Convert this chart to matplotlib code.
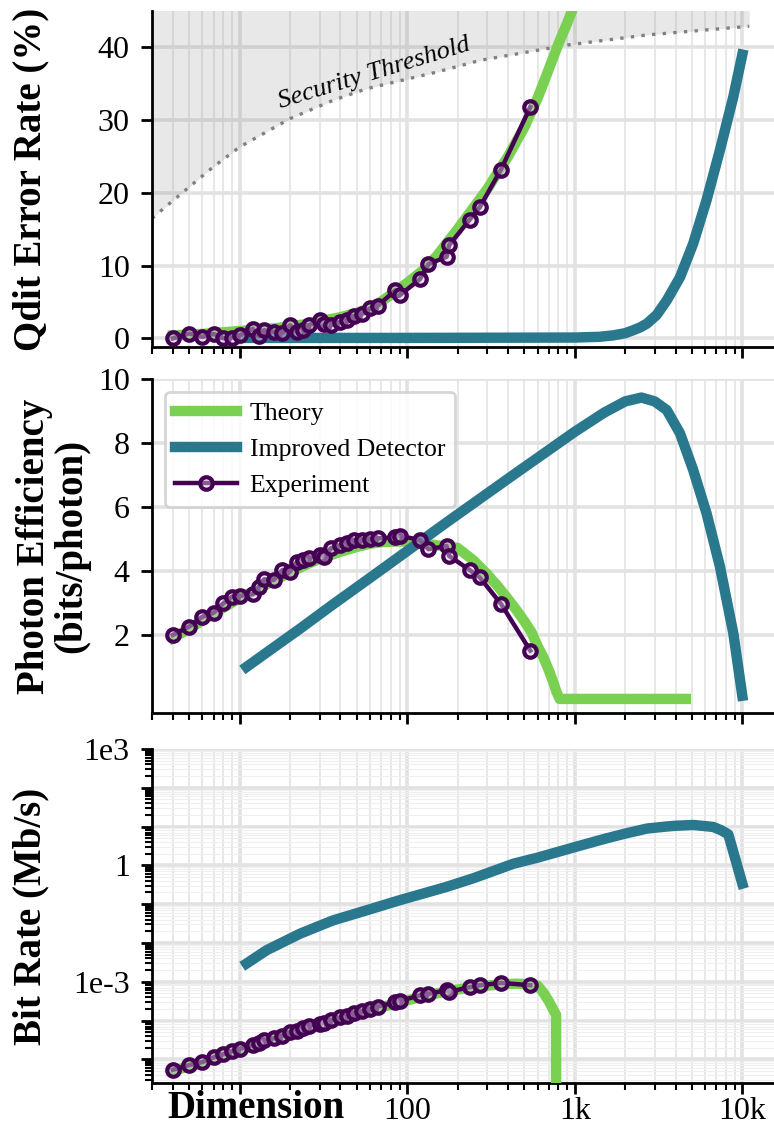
import numpy as np
import matplotlib
matplotlib.use('Agg')
import matplotlib.pyplot as plt
from matplotlib.ticker import FixedLocator, FixedFormatter, LogLocator, FuncFormatter, NullFormatter

plt.rcParams['font.family'] = ['Liberation Serif', 'DejaVu Serif']

# ---------------- data ----------------
exp_dim = [4, 5, 6, 7, 8, 9, 10, 12, 13, 14, 16, 18, 20, 22, 24, 26, 30, 32, 35, 40,
           44, 48, 54, 60, 67, 85, 90, 119, 134, 172, 178, 236, 271, 363, 543]
exp_error = [0.0, 0.65, 0.2, 0.6, 0.0, 0.1, 0.4, 1.3, 0.3, 1.1, 0.9, 0.75, 1.8, 0.9, 1.1, 1.8,
             2.5, 2.0, 1.8, 2.25, 2.5, 3.0, 3.4, 4.1, 4.5, 6.6, 5.9, 8.1, 10.2, 11.2, 12.8,
             16.3, 18.0, 23.2, 31.8]
exp_eff = [2.0, 2.26, 2.57, 2.69, 2.99, 3.2, 3.22, 3.28, 3.49, 3.74, 3.72, 4.03, 3.98, 4.29,
           4.34, 4.40, 4.5, 4.45, 4.71, 4.81, 4.86, 4.97, 4.97, 4.99, 5.02, 5.05, 5.1, 4.97,
           4.68, 4.78, 4.47, 4.03, 3.80, 2.97, 1.51]
exp_rate = [5.37e-6, 7.08e-6, 8.51e-6, 1.12e-5, 1.35e-5, 1.62e-5, 1.86e-5, 2.34e-5, 2.63e-5,
            3.09e-5, 3.47e-5, 4.07e-5, 5.01e-5, 5.37e-5, 6.31e-5, 7.41e-5, 8.32e-5, 8.71e-5,
            1.02e-4, 1.20e-4, 1.32e-4, 1.58e-4, 1.74e-4, 2.0e-4, 2.29e-4, 2.95e-4, 3.16e-4,
            4.47e-4, 4.9e-4, 6.03e-4, 5.5e-4, 7.24e-4, 8.13e-4, 9.33e-4, 8.13e-4]

theory_err_dim = [4, 6, 10, 16, 25, 40, 50, 64, 80, 100, 125, 150, 200, 300, 400, 500, 600,
                  700, 800, 900, 1000]
theory_err = [0.4, 0.6, 1.0, 1.35, 1.95, 2.9, 3.5, 4.4, 6.0, 7.6, 9.4, 11.3, 15.0, 20.5, 25.0,
              29.0, 33.0, 37.0, 40.5, 43.3, 46.0]

theory_dim = [4, 5, 6, 8, 10, 13, 16, 20, 25, 30, 40, 50, 60, 70, 85, 100, 120, 150, 200, 250,
              300, 350, 400, 450, 500, 550, 600, 650, 700, 750, 774, 813, 1000, 2000, 4600]
theory_eff = [1.9, 2.2, 2.45, 2.85, 3.15, 3.45, 3.7, 3.95, 4.2, 4.38, 4.6, 4.75, 4.85, 4.9, 4.92,
              4.92, 4.88, 4.8, 4.72, 4.32, 3.9, 3.5, 3.12, 2.77, 2.43, 2.1, 1.65, 1.3, 0.9, 0.48,
              0.25, 0.0, 0.0, 0.0, 0.0]
theory_rate = [5.0e-6, 6.6e-6, 8.1e-6, 1.26e-5, 1.74e-5, 2.51e-5, 3.31e-5, 4.57e-5, 6.31e-5,
               7.94e-5, 1.15e-4, 1.48e-4, 1.82e-4, 2.19e-4, 2.75e-4, 3.31e-4, 3.98e-4, 5.01e-4,
               6.31e-4, 7.24e-4, 7.94e-4, 8.51e-4, 8.71e-4, 8.91e-4, 8.71e-4, 8.51e-4, 7.94e-4,
               5.25e-4, 3.16e-4, 1.78e-4, 1.41e-4, 0.0, 0.0, 0.0, 0.0]

improved_err_dim = [11, 100, 1000, 1400, 1700, 2000, 2230, 2460, 2690, 3080, 3540, 4250, 5090,
                    6120, 7360, 8840, 10000]
improved_err = [0.05, 0.05, 0.1, 0.2, 0.4, 0.7, 1.1, 1.5, 2.0, 3.2, 5.2, 8.4, 13.0, 19.0, 25.9,
                33.2, 39.0]

improved_eff_dim = [11, 14.5, 23, 36, 57, 90, 170, 430, 1000, 1500, 2000, 2500, 3000, 3540, 4250,
                    5090, 6120, 7360, 8840, 10000]
improved_eff = [1.0, 1.45, 2.2, 2.95, 3.7, 4.45, 5.5, 7.0, 8.35, 8.95, 9.3, 9.42, 9.3, 9.03, 8.3,
                7.16, 5.8, 4.13, 2.05, 0.1]

improved_rate_dim = [11, 14.5, 23, 36, 57, 90, 170, 250, 430, 600, 1000, 1500, 2000, 2700, 3500,
                     4000, 5100, 6700, 7500, 8250, 10000]
improved_rate = [2.95e-3, 6.5e-3, 1.74e-2, 3.8e-2, 6.9e-2, 0.126, 0.275, 0.47, 1.1, 1.58, 2.95,
                 4.8, 6.6, 8.9, 10.0, 10.5, 11.0, 9.8, 8.0, 6.3, 0.34]

threshold_dim = [3, 5, 7, 10, 20, 36, 57, 150, 271, 890, 2690, 11000]
threshold = [16.5, 20.8, 23.6, 26.3, 30.2, 32.7, 34.3, 36.6, 38.2, 40.3, 41.7, 42.9]

x_ticks = [10, 100, 1000, 10000]
x_ticklabels = ['', '100', '1k', '10k']
err_ticks = [0, 10, 20, 30, 40]
eff_ticks = [2, 4, 6, 8, 10]
rate_labels = {1e3: '1e3', 1.0: '1', 1e-3: '1e-3'}

GREEN = '#7ad151'
TEAL = '#2a788e'
PURPLE = '#440154'

# ---------------- figure ----------------
W_PX, H_PX = 774, 1129
fig = plt.figure(figsize=(W_PX / 100, H_PX / 100), dpi=100)
L = 152 / W_PX


def rect(top, bottom):
    return [L, 1 - bottom / H_PX, 1 - L, (bottom - top) / H_PX]


ax1 = fig.add_axes(rect(11, 347))
ax2 = fig.add_axes(rect(379, 713))
ax3 = fig.add_axes(rect(749, 1083))
axes = [ax1, ax2, ax3]

theory_kw = dict(color=GREEN, lw=7.5, zorder=3)
improved_kw = dict(color=TEAL, lw=7.5, zorder=3)
exp_kw = dict(color=PURPLE, lw=3.2, marker='o', ms=9, mew=3,
              mfc=(0.85, 0.8, 0.87, 0.45), mec=PURPLE, zorder=4)

# Panel 1: error rate
ax1.fill_between(threshold_dim, threshold, 60, color='gray', alpha=0.18, lw=0, zorder=1)
ax1.plot(threshold_dim, threshold, color='gray', ls=(0, (1, 2.2)), lw=2.4, zorder=2)
ax1.plot(theory_err_dim, theory_err, **theory_kw)
ax1.plot(improved_err_dim, improved_err, **improved_kw)
ax1.plot(exp_dim, exp_error, **exp_kw)
ax1.text(64.9, 35.6, 'Security Threshold', rotation=17, rotation_mode='anchor',
         ha='center', va='baseline', fontsize=19, fontstyle='italic', zorder=5)
ax1.set_ylim(-1.2, 45)
ax1.yaxis.set_major_locator(FixedLocator(err_ticks))
ax1.set_ylabel('Qdit Error Rate (%)', fontsize=28, fontweight='bold')

# Panel 2: photon efficiency
ax2.plot(theory_dim, theory_eff, label='Theory', **theory_kw)
ax2.plot(improved_eff_dim, improved_eff, label='Improved Detector', **improved_kw)
ax2.plot(exp_dim, exp_eff, label='Experiment', **exp_kw)
ax2.set_ylim(-0.44, 10)
ax2.yaxis.set_major_locator(FixedLocator(eff_ticks))
ax2.set_ylabel('Photon Efficiency\n(bits/photon)', fontsize=28, fontweight='bold',
               linespacing=1.0)
leg = ax2.legend(loc='upper left', fontsize=18.5, handlelength=2.4, handletextpad=0.5,
                 labelspacing=0.5, borderpad=0.4, frameon=True, fancybox=True,
                 framealpha=0.85, edgecolor='#cfcfcf', borderaxespad=0.5)
leg.get_frame().set_linewidth(2)
leg.set_zorder(10)

# Panel 3: bit rate
ax3.set_yscale('log')
ax3.plot(theory_dim, theory_rate, **theory_kw)
ax3.plot(improved_rate_dim, improved_rate, **improved_kw)
ax3.plot(exp_dim, exp_rate, **exp_kw)
ax3.set_ylim(2.45e-6, 1e3)
ax3.yaxis.set_major_locator(LogLocator(base=10, numticks=30))
ax3.yaxis.set_minor_locator(LogLocator(base=10, subs=np.arange(2, 10), numticks=30))


def rate_fmt(v, pos):
    for k, s in rate_labels.items():
        if abs(np.log10(v) - np.log10(k)) < 1e-6:
            return s
    return ''


ax3.yaxis.set_major_formatter(FuncFormatter(rate_fmt))
ax3.yaxis.set_minor_formatter(NullFormatter())
ax3.set_ylabel('Bit Rate (Mb/s)', fontsize=28, fontweight='bold')
ax3.grid(True, which='minor', axis='y', color='#efefef', lw=0.8, zorder=0)

for ax in axes:
    ax.set_xscale('log')
    ax.set_xlim(3, 15460)
    ax.xaxis.set_major_locator(FixedLocator(x_ticks))
    ax.xaxis.set_minor_locator(LogLocator(base=10, subs=np.arange(2, 10), numticks=30))
    ax.xaxis.set_minor_formatter(NullFormatter())
    ax.set_axisbelow(True)
    ax.grid(True, which='major', color='#e2e2e2', lw=2.6, zorder=0)
    ax.grid(True, which='minor', axis='x', color='#e6e6e6', lw=1.3, zorder=0)
    for s in ['top', 'right']:
        ax.spines[s].set_visible(False)
    for s in ['left', 'bottom']:
        ax.spines[s].set_linewidth(2)
    ax.tick_params(which='major', length=8, width=2, labelsize=23, direction='out')
    ax.tick_params(which='minor', length=5, width=1.5, direction='out')
    ax.tick_params(axis='y', which='major', pad=8)
    ax.tick_params(axis='x', which='major', pad=2)

ax1.xaxis.set_major_formatter(NullFormatter())
ax2.xaxis.set_major_formatter(NullFormatter())
ax3.xaxis.set_major_formatter(FixedFormatter(x_ticklabels))

ax1.yaxis.set_label_coords(-0.165, 0.5)
ax2.yaxis.set_label_coords(-0.1, 0.5)
ax3.yaxis.set_label_coords(-0.165, 0.5)

ax3.text(167 / W_PX, 1.5 / H_PX, 'Dimension', transform=fig.transFigure, ha='left',
         va='bottom', fontsize=28, fontweight='bold')

fig.savefig('out.png', dpi=100)
